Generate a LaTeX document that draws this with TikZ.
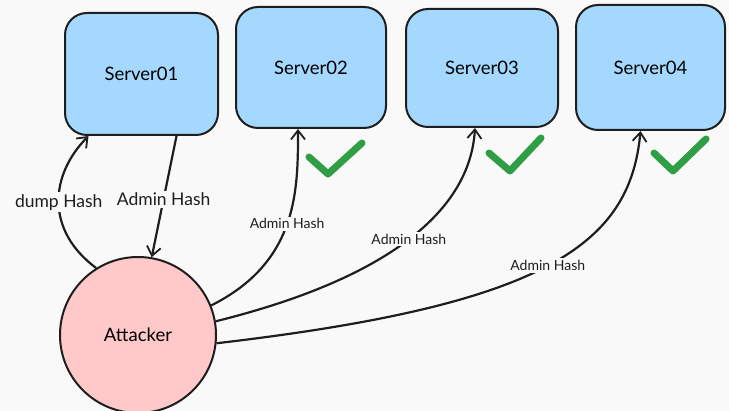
\documentclass[tikz,border=0pt]{standalone}
\usepackage{fontspec}
\setmainfont{Lato}
\usetikzlibrary{arrows.meta}
\definecolor{bg}{HTML}{F9F9F9}
\definecolor{srv}{HTML}{A5D8FF}
\definecolor{atk}{HTML}{FFC9C9}
\definecolor{ok}{HTML}{2F9E44}
\definecolor{ink}{HTML}{1E1E1E}
\tikzset{
  srvbox/.style={draw=ink, line width=2pt, fill=srv, rounded corners=22pt, font=\fontsize{18.5}{20}\selectfont},
  conn/.style={draw=ink, line width=2.2pt, -{Straight Barb[length=9pt,width=14pt,line width=1.8pt]}},
  biglab/.style={fill=bg, inner sep=2pt, font=\fontsize{17.5}{19}\selectfont, text=ink},
  smalllab/.style={fill=bg, inner sep=2pt, font=\fontsize{14}{16}\selectfont, text=ink},
  check/.style={draw=ok, line width=7pt, line cap=round, line join=round}
}
\begin{document}
\begin{tikzpicture}[x=1pt,y=-1pt]
\fill[bg] (0,0) rectangle (729,411);
\useasboundingbox (0,0) rectangle (729,411);
\node[srvbox, minimum width=153pt, minimum height=122pt] (s1) at (141.5,74) {Server01};
\node[srvbox, minimum width=150pt, minimum height=121pt] (s2) at (311,67.5) {Server02};
\node[srvbox, minimum width=152pt, minimum height=118pt] (s3) at (482,68) {Server03};
\node[srvbox, minimum width=149pt, minimum height=125pt] (s4) at (650.5,67.5) {Server04};
\node[draw=ink, line width=2pt, fill=atk, circle, minimum size=156pt, inner sep=0pt, font=\fontsize{18.5}{20}\selectfont] (att) at (138,335) {Attacker};

\draw[conn] (att.122) .. controls (45,230) and (50,175) .. node[biglab, pos=0.5] (l1) {dump Hash} ([xshift=-53pt]s1.south);
\draw[conn] ([xshift=35pt]s1.south) -- node[biglab, pos=0.52] (l2) {Admin Hash} (att.80);
\draw[conn] (att.22) .. controls (298,262) and (298,190) .. node[smalllab, pos=0.5] (l3) {Admin Hash} ([xshift=-13pt]s2.south);
\draw[conn] (att.10) .. controls (390,278) and (470,210) .. node[smalllab, pos=0.5] (l4) {Admin Hash} ([xshift=-7pt]s3.south);
\draw[conn] (att.-6) .. controls (545,305) and (630,245) .. node[smalllab, pos=0.5] (l5) {Admin Hash} ([xshift=-10pt]s4.south);

\draw[check] (309,157) -- (328,174) -- (362,143);
\draw[check] (489,153) -- (510,171) -- (541,138);
\draw[check] (654,153) -- (673,171) -- (706,139);
\end{tikzpicture}
\end{document}
